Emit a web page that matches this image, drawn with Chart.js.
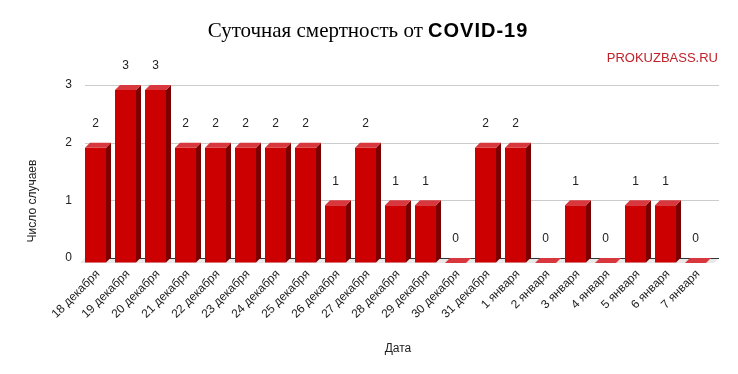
<!DOCTYPE html>
<html>
<head>
<meta charset="utf-8">
<script src="https://cdn.jsdelivr.net/npm/chart.js@4"></script>
<style>
  html, body { margin: 0; padding: 0; background: #fff; }
  #wrap { width: 738px; height: 374px; }
</style>
</head>
<body>
<div id="wrap"><canvas id="smertChart" width="738" height="374"></canvas></div>
<script>
// Даты и число смертей за сутки
const dates = ['18 декабря', '19 декабря', '20 декабря', '21 декабря', '22 декабря', '23 декабря',
  '24 декабря', '25 декабря', '26 декабря', '27 декабря', '28 декабря', '29 декабря', '30 декабря',
  '31 декабря', '1 января', '2 января', '3 января', '4 января', '5 января', '6 января', '7 января'];
const deaths = [2, 3, 3, 2, 2, 2, 2, 2, 1, 2, 1, 1, 0, 2, 2, 0, 1, 0, 1, 1, 0];
const yTicks = [0, 1, 2, 3];

const FONT = "'Liberation Sans', Arial, sans-serif";
const DEPTH = 5; // глубина "3D" столбиков

// цвета граней
const colFront = '#cc0000';
const colTop = '#d8373d';
const colSide = '#7d0000';

const ctx = document.getElementById('smertChart').getContext('2d');

// Пол, сетка, 3D грани, подписи, заголовки
const bars3d = {
  id: 'bars3d',
  beforeDatasetsDraw(chart) {
    const c = chart.ctx;
    const area = chart.chartArea;
    const y = chart.scales.y;
    const base = y.getPixelForValue(0);
    c.save();
    // пол
    c.fillStyle = '#e9e9e9';
    c.beginPath();
    c.moveTo(area.left - 3, base + DEPTH);
    c.lineTo(area.left + 2, base);
    c.lineTo(area.right + 6, base);
    c.lineTo(area.right + 1, base + DEPTH);
    c.closePath();
    c.fill();
    // сетка
    yTicks.forEach(v => {
      const py = Math.round(y.getPixelForValue(v)) + 0.5;
      c.strokeStyle = v === 0 ? '#333333' : '#cccccc';
      c.lineWidth = 1;
      c.beginPath();
      c.moveTo(area.left + 2, py);
      c.lineTo(area.right + 6, py);
      c.stroke();
    });
    c.restore();
  },
  beforeDatasetDraw(chart) {
    chart.ctx.save();
    chart.ctx.translate(-DEPTH / 2, DEPTH);
  },
  afterDatasetDraw(chart, args) {
    const c = chart.ctx;
    c.restore();
    const meta = args.meta;
    c.save();
    meta.data.forEach((bar, i) => {
      const w = bar.width;
      const x0 = bar.x - w / 2 - DEPTH / 2;
      const x1 = x0 + w;
      const yTop = bar.y + DEPTH;
      const yBot = bar.base + DEPTH;
      // боковая грань
      if (yBot - yTop > 0.5) {
        c.fillStyle = colSide;
        c.beginPath();
        c.moveTo(x1, yTop);
        c.lineTo(x1 + DEPTH, yTop - DEPTH);
        c.lineTo(x1 + DEPTH, yBot - DEPTH);
        c.lineTo(x1, yBot);
        c.closePath();
        c.fill();
      }
      // верхняя грань
      c.fillStyle = colTop;
      c.beginPath();
      c.moveTo(x0, yTop);
      c.lineTo(x0 + DEPTH, yTop - DEPTH);
      c.lineTo(x1 + DEPTH, yTop - DEPTH);
      c.lineTo(x1, yTop);
      c.closePath();
      c.fill();
      // подпись значения
      c.fillStyle = '#222222';
      c.font = '12px ' + FONT;
      c.textAlign = 'center';
      c.textBaseline = 'middle';
      c.fillText(String(deaths[i]), x0 + w / 2, bar.y - 19);
    });
    c.restore();
  },
  afterDraw(chart) {
    const c = chart.ctx;
    c.save();
    // заголовок: часть с засечками + жирный COVID-19
    const part1 = 'Суточная смертность от ';
    const part2 = 'COVID-19';
    const f1 = "21px 'Liberation Serif', 'Times New Roman', serif";
    const f2 = "bold 20px " + FONT;
    c.font = f1;
    const w1 = c.measureText(part1).width;
    c.font = f2;
    c.letterSpacing = '1px';
    const w2 = c.measureText(part2).width;
    c.letterSpacing = '0px';
    let sx = 368 - (w1 + w2) / 2;
    c.fillStyle = '#000000';
    c.textBaseline = 'alphabetic';
    c.textAlign = 'left';
    c.font = f1;
    c.fillText(part1, sx, 37);
    c.font = f2;
    c.letterSpacing = '1px';
    c.fillText(part2, sx + w1, 37);
    c.letterSpacing = '0px';
    // источник
    c.font = '13px ' + FONT;
    c.fillStyle = '#c0222a';
    c.textAlign = 'right';
    c.textBaseline = 'middle';
    c.fillText('PROKUZBASS.RU', 718, 58);
    // подпись оси Y
    c.translate(33, 201);
    c.rotate(-Math.PI / 2);
    c.font = '12px ' + FONT;
    c.fillStyle = '#222222';
    c.textAlign = 'center';
    c.textBaseline = 'middle';
    c.fillText('Число случаев', 0, 0);
    c.restore();
  }
};

new Chart(ctx, {
  type: 'bar',
  data: {
    labels: dates,
    datasets: [{
      label: 'Смертность',
      data: deaths,
      backgroundColor: colFront,
      borderWidth: 0,
      barPercentage: 0.7,
      categoryPercentage: 1.0
    }]
  },
  options: {
    responsive: false,
    animation: false,
    events: [],
    layout: { padding: { top: 85, right: 25, bottom: 0, left: 0 } },
    plugins: {
      legend: { display: false },
      tooltip: { enabled: false },
      title: { display: false }
    },
    scales: {
      x: {
        afterFit: s => { s.height = 116; },
        grid: { display: false, drawTicks: false },
        border: { display: false },
        ticks: {
          autoSkip: false,
          minRotation: 45,
          maxRotation: 45,
          padding: 9,
          color: '#222222',
          font: { family: FONT, size: 12 }
        },
        title: {
          display: true,
          text: 'Дата',
          color: '#222222',
          font: { family: FONT, size: 12 },
          padding: { top: 0, bottom: 18 }
        }
      },
      y: {
        min: 0,
        max: 3,
        afterFit: s => { s.width = 83; },
        afterBuildTicks: s => { s.ticks = yTicks.map(v => ({ value: v })); },
        grid: { drawOnChartArea: false, drawTicks: false },
        border: { display: false },
        ticks: {
          padding: 11,
          color: '#222222',
          font: { family: FONT, size: 12 }
        }
      }
    }
  },
  plugins: [bars3d]
});
</script>
</body>
</html>
